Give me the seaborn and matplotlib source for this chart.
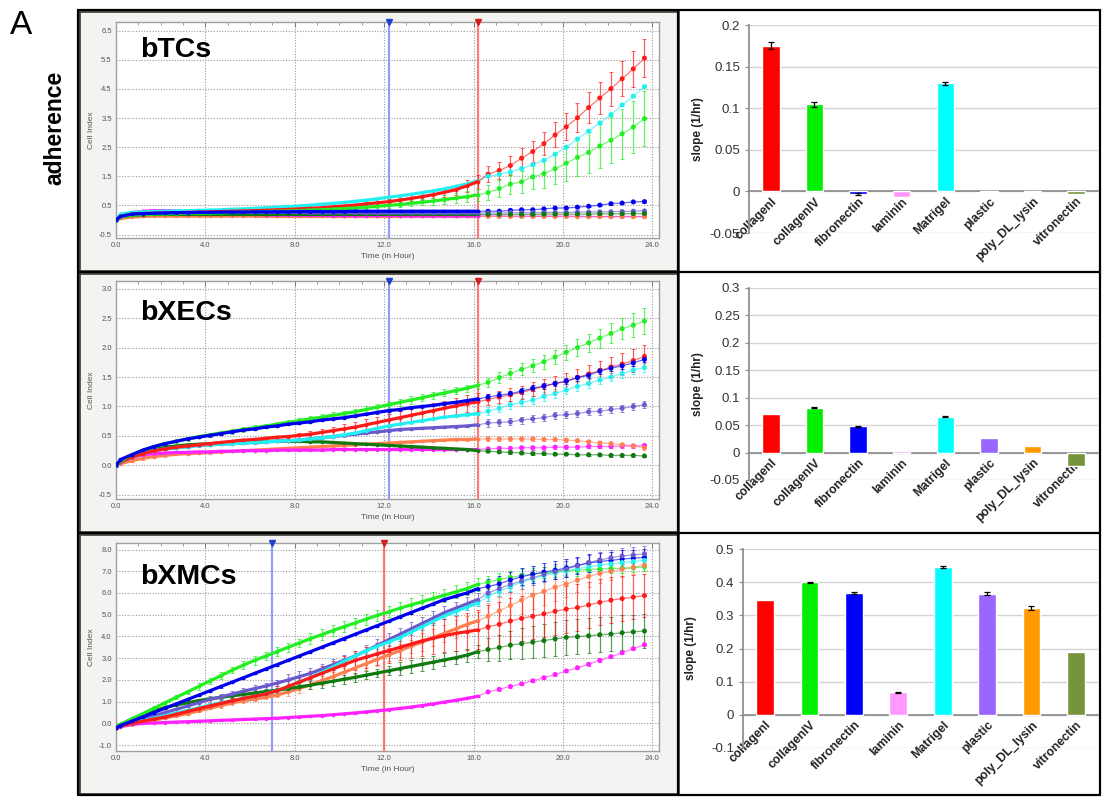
import numpy as np
import pandas as pd
import matplotlib
matplotlib.use("Agg")
import matplotlib.pyplot as plt
import seaborn as sns
from matplotlib.patches import Rectangle
from matplotlib.lines import Line2D
from matplotlib.ticker import MultipleLocator, FormatStrFormatter, FuncFormatter

sns.set_theme(style="white")
plt.rcParams["font.family"] = ["Liberation Sans", "DejaVu Sans"]

# ---------------- data ----------------
substrates = ["collagenI", "collagenIV", "fibronectin", "laminin", "Matrigel",
              "plastic", "poly_DL_lysin", "vitronectin"]

T_DENSE = [0.0, 0.2, 0.7, 1.2, 1.7, 2.2, 2.7, 3.2, 3.7, 4.2, 4.7, 5.2, 5.7, 6.2, 6.7, 7.2, 7.7,
           8.2, 8.7, 9.2, 9.7, 10.2, 10.7, 11.2, 11.7, 12.2, 12.7, 13.2, 13.7, 14.2, 14.7, 15.2,
           15.7, 16.2]
T_LATE = [16.65, 17.15, 17.65, 18.15, 18.65, 19.15, 19.65, 20.15, 20.65, 21.15, 21.65, 22.15,
          22.65, 23.15, 23.65]

# bTCs cell index
tc_collagenI = [0.0, 0.12, 0.2, 0.22, 0.23, 0.24, 0.25, 0.26, 0.27, 0.28, 0.29, 0.3, 0.31, 0.32, 0.33, 0.35, 0.36,
                0.38, 0.4, 0.42, 0.45, 0.48, 0.51, 0.55, 0.59, 0.63, 0.68, 0.74, 0.8, 0.87, 0.95, 1.04, 1.17, 1.32,
                1.57, 1.7, 1.87, 2.12, 2.35, 2.62, 2.92, 3.2, 3.51, 3.86, 4.19, 4.51, 4.85, 5.19, 5.56]
tc_collagenI_err = [0.01, 0.01, 0.01, 0.01, 0.01, 0.01, 0.01, 0.01, 0.01, 0.01, 0.01, 0.01, 0.02, 0.02, 0.02, 0.02, 0.02,
                    0.03, 0.03, 0.04, 0.04, 0.05, 0.05, 0.06, 0.07, 0.08, 0.09, 0.1, 0.11, 0.13, 0.15, 0.17, 0.2, 0.24,
                    0.28, 0.3, 0.32, 0.34, 0.37, 0.4, 0.43, 0.46, 0.5, 0.53, 0.56, 0.58, 0.6, 0.62, 0.65]
tc_collagenIV = [0.0, 0.1, 0.17, 0.19, 0.2, 0.21, 0.22, 0.23, 0.23, 0.24, 0.25, 0.26, 0.27, 0.28, 0.29, 0.3, 0.31,
                 0.32, 0.34, 0.35, 0.37, 0.39, 0.41, 0.44, 0.47, 0.5, 0.53, 0.57, 0.61, 0.65, 0.7, 0.75, 0.8, 0.86,
                 0.94, 1.08, 1.23, 1.31, 1.48, 1.59, 1.76, 1.95, 2.15, 2.32, 2.54, 2.74, 2.96, 3.19, 3.48]
tc_collagenIV_err = [0.01, 0.01, 0.01, 0.01, 0.01, 0.01, 0.01, 0.01, 0.01, 0.01, 0.01, 0.01, 0.01, 0.02, 0.02, 0.02, 0.02,
                     0.02, 0.03, 0.03, 0.03, 0.04, 0.05, 0.06, 0.07, 0.08, 0.09, 0.1, 0.11, 0.12, 0.14, 0.16, 0.18, 0.2,
                     0.25, 0.3, 0.34, 0.38, 0.43, 0.48, 0.53, 0.6, 0.65, 0.7, 0.75, 0.8, 0.85, 0.9, 0.95]
tc_fibronectin = [0.0, 0.12, 0.2, 0.22, 0.23, 0.24, 0.25, 0.25, 0.26, 0.26, 0.27, 0.27, 0.27, 0.28, 0.28, 0.28, 0.28,
                  0.29, 0.29, 0.29, 0.29, 0.29, 0.3, 0.3, 0.3, 0.3, 0.3, 0.3, 0.3, 0.3, 0.3, 0.3, 0.3, 0.3,
                  0.3, 0.3, 0.33, 0.35, 0.35, 0.38, 0.41, 0.41, 0.44, 0.47, 0.51, 0.56, 0.58, 0.62, 0.63]
tc_fibronectin_err = [0.02, 0.02, 0.02, 0.02, 0.02, 0.02, 0.02, 0.02, 0.02, 0.02, 0.02, 0.02, 0.02, 0.02, 0.02, 0.02, 0.02,
                      0.02, 0.02, 0.02, 0.02, 0.02, 0.02, 0.02, 0.02, 0.02, 0.02, 0.02, 0.02, 0.02, 0.02, 0.02, 0.02, 0.02,
                      0.04, 0.04, 0.04, 0.04, 0.04, 0.04, 0.04, 0.04, 0.04, 0.04, 0.04, 0.04, 0.04, 0.04, 0.04]
tc_laminin = [0.0, 0.15, 0.25, 0.3, 0.32, 0.32, 0.31, 0.29, 0.27, 0.25, 0.23, 0.21, 0.2, 0.19, 0.18, 0.17, 0.17,
              0.16, 0.16, 0.16, 0.15, 0.15, 0.15, 0.15, 0.15, 0.15, 0.15, 0.14, 0.14, 0.14, 0.14, 0.14, 0.14, 0.14,
              0.14, 0.14, 0.13, 0.13, 0.13, 0.13, 0.13, 0.13, 0.13, 0.12, 0.12, 0.12, 0.12, 0.12, 0.12]
tc_laminin_err = [0.01, 0.01, 0.01, 0.01, 0.01, 0.01, 0.01, 0.01, 0.01, 0.01, 0.01, 0.01, 0.01, 0.01, 0.01, 0.01, 0.01,
                  0.01, 0.01, 0.01, 0.01, 0.01, 0.01, 0.01, 0.01, 0.01, 0.01, 0.01, 0.01, 0.01, 0.01, 0.01, 0.01, 0.01,
                  0.02, 0.02, 0.02, 0.02, 0.02, 0.02, 0.02, 0.02, 0.02, 0.02, 0.02, 0.02, 0.02, 0.02, 0.02]
tc_Matrigel = [0.0, 0.2, 0.26, 0.28, 0.29, 0.3, 0.31, 0.32, 0.33, 0.34, 0.35, 0.37, 0.38, 0.4, 0.42, 0.44, 0.46,
               0.48, 0.51, 0.54, 0.57, 0.6, 0.64, 0.68, 0.73, 0.78, 0.83, 0.88, 0.94, 1.0, 1.07, 1.15, 1.24, 1.34,
               1.5, 1.57, 1.65, 1.77, 1.9, 2.05, 2.26, 2.5, 2.78, 3.05, 3.33, 3.62, 3.95, 4.25, 4.58]
tc_Matrigel_err = [0.02, 0.02, 0.02, 0.02, 0.02, 0.02, 0.02, 0.02, 0.02, 0.02, 0.02, 0.02, 0.02, 0.02, 0.02, 0.02, 0.02,
                   0.02, 0.02, 0.02, 0.02, 0.02, 0.02, 0.02, 0.02, 0.02, 0.02, 0.02, 0.02, 0.02, 0.02, 0.02, 0.02, 0.02,
                   0.04, 0.04, 0.04, 0.04, 0.04, 0.04, 0.04, 0.04, 0.04, 0.04, 0.04, 0.04, 0.04, 0.04, 0.04]
tc_plastic = [0.0, 0.15, 0.22, 0.25, 0.27, 0.28, 0.28, 0.28, 0.28, 0.27, 0.27, 0.27, 0.27, 0.26, 0.26, 0.26, 0.26,
              0.26, 0.25, 0.25, 0.25, 0.25, 0.25, 0.25, 0.24, 0.24, 0.24, 0.24, 0.24, 0.24, 0.24, 0.24, 0.24, 0.24,
              0.24, 0.24, 0.25, 0.25, 0.25, 0.26, 0.26, 0.26, 0.27, 0.27, 0.28, 0.28, 0.29, 0.3, 0.31]
tc_plastic_err = [0.01, 0.01, 0.01, 0.01, 0.01, 0.01, 0.01, 0.01, 0.01, 0.01, 0.01, 0.01, 0.01, 0.01, 0.01, 0.01, 0.01,
                  0.01, 0.01, 0.01, 0.01, 0.01, 0.01, 0.01, 0.01, 0.01, 0.01, 0.01, 0.01, 0.01, 0.01, 0.01, 0.01, 0.01,
                  0.03, 0.03, 0.03, 0.03, 0.03, 0.03, 0.03, 0.03, 0.03, 0.03, 0.03, 0.03, 0.03, 0.03, 0.03]
tc_poly_DL_lysin = [0.0, 0.05, 0.1, 0.12, 0.13, 0.13, 0.13, 0.13, 0.13, 0.13, 0.13, 0.13, 0.13, 0.13, 0.12, 0.12, 0.12,
                    0.12, 0.12, 0.12, 0.12, 0.12, 0.12, 0.12, 0.12, 0.12, 0.12, 0.12, 0.12, 0.12, 0.12, 0.12, 0.12, 0.12,
                    0.12, 0.12, 0.12, 0.12, 0.12, 0.12, 0.12, 0.12, 0.11, 0.11, 0.11, 0.11, 0.11, 0.11, 0.11]
tc_poly_DL_lysin_err = [0.01, 0.01, 0.01, 0.01, 0.01, 0.01, 0.01, 0.01, 0.01, 0.01, 0.01, 0.01, 0.01, 0.01, 0.01, 0.01, 0.01,
                        0.01, 0.01, 0.01, 0.01, 0.01, 0.01, 0.01, 0.01, 0.01, 0.01, 0.01, 0.01, 0.01, 0.01, 0.01, 0.01, 0.01,
                        0.02, 0.02, 0.02, 0.02, 0.02, 0.02, 0.02, 0.02, 0.02, 0.02, 0.02, 0.02, 0.02, 0.02, 0.02]
tc_vitronectin = [0.0, 0.1, 0.16, 0.18, 0.19, 0.19, 0.19, 0.19, 0.19, 0.19, 0.19, 0.19, 0.19, 0.19, 0.19, 0.19, 0.19,
                  0.19, 0.19, 0.19, 0.19, 0.19, 0.19, 0.19, 0.19, 0.19, 0.19, 0.19, 0.19, 0.19, 0.19, 0.19, 0.19, 0.19,
                  0.19, 0.19, 0.19, 0.19, 0.19, 0.2, 0.2, 0.2, 0.2, 0.2, 0.21, 0.21, 0.21, 0.22, 0.22]
tc_vitronectin_err = [0.01, 0.01, 0.01, 0.01, 0.01, 0.01, 0.01, 0.01, 0.01, 0.01, 0.01, 0.01, 0.01, 0.01, 0.01, 0.01, 0.01,
                      0.01, 0.01, 0.01, 0.01, 0.01, 0.01, 0.01, 0.01, 0.01, 0.01, 0.01, 0.01, 0.01, 0.01, 0.01, 0.01, 0.01,
                      0.02, 0.02, 0.02, 0.02, 0.02, 0.02, 0.02, 0.02, 0.02, 0.02, 0.02, 0.02, 0.02, 0.02, 0.02]

# bXECs cell index
ec_collagenI = [0.0, 0.06, 0.14, 0.2, 0.25, 0.28, 0.31, 0.33, 0.35, 0.37, 0.39, 0.41, 0.43, 0.44, 0.46, 0.48, 0.49,
                0.51, 0.53, 0.56, 0.59, 0.62, 0.65, 0.69, 0.73, 0.77, 0.81, 0.85, 0.89, 0.93, 0.97, 1.01, 1.05, 1.08,
                1.12, 1.16, 1.2, 1.24, 1.29, 1.34, 1.39, 1.43, 1.49, 1.55, 1.61, 1.67, 1.72, 1.78, 1.85]
ec_collagenI_err = [0.02, 0.02, 0.02, 0.02, 0.02, 0.02, 0.02, 0.02, 0.02, 0.02, 0.02, 0.02, 0.02, 0.02, 0.02, 0.02, 0.03,
                    0.04, 0.05, 0.06, 0.07, 0.08, 0.09, 0.1, 0.1, 0.11, 0.11, 0.12, 0.12, 0.13, 0.13, 0.14, 0.14, 0.15,
                    0.1, 0.1, 0.11, 0.11, 0.12, 0.12, 0.13, 0.14, 0.14, 0.15, 0.16, 0.17, 0.18, 0.19, 0.2]
ec_collagenIV = [0.0, 0.08, 0.18, 0.26, 0.32, 0.37, 0.41, 0.45, 0.49, 0.52, 0.55, 0.58, 0.61, 0.64, 0.67, 0.7, 0.73,
                 0.76, 0.79, 0.82, 0.85, 0.88, 0.91, 0.95, 0.99, 1.03, 1.07, 1.11, 1.15, 1.19, 1.23, 1.27, 1.31, 1.36,
                 1.41, 1.49, 1.56, 1.63, 1.69, 1.76, 1.84, 1.92, 2.0, 2.08, 2.16, 2.24, 2.32, 2.38, 2.45]
ec_collagenIV_err = [0.02, 0.02, 0.02, 0.02, 0.03, 0.03, 0.03, 0.03, 0.03, 0.03, 0.04, 0.04, 0.04, 0.04, 0.04, 0.04, 0.04,
                     0.04, 0.05, 0.05, 0.05, 0.05, 0.05, 0.05, 0.05, 0.05, 0.06, 0.06, 0.06, 0.06, 0.06, 0.06, 0.06, 0.06,
                     0.08, 0.09, 0.1, 0.1, 0.11, 0.12, 0.12, 0.13, 0.14, 0.15, 0.16, 0.17, 0.18, 0.2, 0.22]
ec_fibronectin = [0.0, 0.1, 0.18, 0.26, 0.32, 0.37, 0.41, 0.45, 0.48, 0.51, 0.54, 0.57, 0.6, 0.62, 0.65, 0.67, 0.7,
                  0.72, 0.74, 0.77, 0.79, 0.81, 0.84, 0.87, 0.9, 0.93, 0.95, 0.98, 1.0, 1.02, 1.05, 1.07, 1.1, 1.13,
                  1.16, 1.19, 1.22, 1.26, 1.31, 1.35, 1.39, 1.43, 1.49, 1.53, 1.6, 1.65, 1.69, 1.74, 1.8]
ec_fibronectin_err = [0.02, 0.02, 0.02, 0.02, 0.02, 0.02, 0.02, 0.02, 0.02, 0.02, 0.02, 0.02, 0.02, 0.02, 0.02, 0.02, 0.02,
                      0.02, 0.02, 0.02, 0.02, 0.02, 0.02, 0.02, 0.02, 0.02, 0.02, 0.02, 0.02, 0.02, 0.02, 0.02, 0.02, 0.02,
                      0.05, 0.05, 0.05, 0.05, 0.05, 0.05, 0.05, 0.05, 0.05, 0.05, 0.05, 0.05, 0.05, 0.05, 0.05]
ec_laminin = [0.0, 0.06, 0.14, 0.18, 0.2, 0.21, 0.22, 0.22, 0.23, 0.23, 0.24, 0.24, 0.25, 0.25, 0.25, 0.26, 0.26,
              0.26, 0.26, 0.26, 0.27, 0.27, 0.27, 0.27, 0.27, 0.27, 0.27, 0.27, 0.27, 0.27, 0.27, 0.27, 0.27, 0.27,
              0.28, 0.29, 0.29, 0.3, 0.3, 0.3, 0.31, 0.31, 0.31, 0.32, 0.32, 0.32, 0.33, 0.33, 0.34]
ec_laminin_err = [0.01, 0.01, 0.01, 0.01, 0.01, 0.01, 0.01, 0.01, 0.01, 0.01, 0.01, 0.01, 0.01, 0.01, 0.01, 0.01, 0.01,
                  0.01, 0.01, 0.01, 0.01, 0.01, 0.01, 0.01, 0.01, 0.01, 0.01, 0.01, 0.01, 0.01, 0.01, 0.01, 0.01, 0.01,
                  0.03, 0.03, 0.03, 0.03, 0.03, 0.03, 0.03, 0.03, 0.03, 0.03, 0.03, 0.03, 0.03, 0.03, 0.03]
ec_Matrigel = [0.0, 0.06, 0.14, 0.2, 0.25, 0.28, 0.3, 0.32, 0.34, 0.35, 0.36, 0.37, 0.38, 0.39, 0.4, 0.41, 0.42,
               0.43, 0.45, 0.47, 0.49, 0.52, 0.55, 0.59, 0.63, 0.67, 0.7, 0.73, 0.76, 0.79, 0.82, 0.84, 0.86, 0.88,
               0.92, 0.97, 1.03, 1.07, 1.11, 1.17, 1.22, 1.28, 1.34, 1.39, 1.45, 1.5, 1.56, 1.62, 1.66]
ec_Matrigel_err = [0.02, 0.02, 0.02, 0.02, 0.02, 0.02, 0.02, 0.02, 0.02, 0.02, 0.02, 0.02, 0.02, 0.02, 0.02, 0.02, 0.02,
                   0.02, 0.02, 0.02, 0.02, 0.02, 0.02, 0.02, 0.02, 0.02, 0.02, 0.02, 0.02, 0.02, 0.02, 0.02, 0.02, 0.02,
                   0.07, 0.07, 0.07, 0.07, 0.07, 0.07, 0.07, 0.07, 0.07, 0.07, 0.07, 0.07, 0.07, 0.07, 0.07]
ec_plastic = [0.0, 0.06, 0.14, 0.2, 0.25, 0.28, 0.3, 0.32, 0.34, 0.35, 0.36, 0.37, 0.38, 0.39, 0.4, 0.41, 0.42,
              0.43, 0.45, 0.47, 0.49, 0.51, 0.53, 0.55, 0.57, 0.59, 0.61, 0.62, 0.63, 0.64, 0.65, 0.66, 0.67, 0.69,
              0.72, 0.73, 0.74, 0.77, 0.79, 0.81, 0.85, 0.86, 0.88, 0.91, 0.92, 0.95, 0.97, 1.0, 1.03]
ec_plastic_err = [0.02, 0.02, 0.02, 0.02, 0.02, 0.02, 0.02, 0.02, 0.02, 0.02, 0.02, 0.02, 0.02, 0.02, 0.02, 0.02, 0.02,
                  0.02, 0.02, 0.02, 0.02, 0.02, 0.02, 0.02, 0.02, 0.02, 0.02, 0.02, 0.02, 0.02, 0.02, 0.02, 0.02, 0.02,
                  0.06, 0.06, 0.06, 0.06, 0.06, 0.06, 0.06, 0.06, 0.06, 0.06, 0.06, 0.06, 0.06, 0.06, 0.06]
ec_poly_DL_lysin = [0.0, 0.03, 0.08, 0.12, 0.15, 0.17, 0.19, 0.2, 0.21, 0.22, 0.23, 0.24, 0.25, 0.26, 0.27, 0.28, 0.29,
                    0.3, 0.31, 0.32, 0.33, 0.34, 0.35, 0.36, 0.37, 0.38, 0.39, 0.4, 0.41, 0.42, 0.43, 0.44, 0.44, 0.45,
                    0.45, 0.45, 0.45, 0.45, 0.45, 0.44, 0.44, 0.43, 0.42, 0.4, 0.38, 0.37, 0.35, 0.33, 0.3]
ec_poly_DL_lysin_err = [0.02, 0.02, 0.02, 0.02, 0.02, 0.02, 0.02, 0.02, 0.02, 0.02, 0.02, 0.02, 0.02, 0.02, 0.02, 0.02, 0.02,
                        0.02, 0.02, 0.02, 0.02, 0.02, 0.02, 0.02, 0.02, 0.02, 0.02, 0.02, 0.02, 0.02, 0.02, 0.02, 0.02, 0.02,
                        0.03, 0.03, 0.03, 0.03, 0.03, 0.03, 0.03, 0.03, 0.03, 0.03, 0.03, 0.03, 0.03, 0.03, 0.03]
ec_vitronectin = [0.0, 0.06, 0.14, 0.21, 0.27, 0.31, 0.33, 0.35, 0.36, 0.37, 0.38, 0.39, 0.4, 0.4, 0.41, 0.41, 0.41,
                  0.41, 0.4, 0.4, 0.39, 0.38, 0.37, 0.36, 0.35, 0.34, 0.33, 0.32, 0.31, 0.3, 0.29, 0.28, 0.27, 0.25,
                  0.24, 0.23, 0.22, 0.21, 0.2, 0.2, 0.19, 0.19, 0.18, 0.18, 0.18, 0.17, 0.17, 0.17, 0.16]
ec_vitronectin_err = [0.01, 0.01, 0.01, 0.01, 0.01, 0.01, 0.01, 0.01, 0.01, 0.01, 0.01, 0.01, 0.01, 0.01, 0.01, 0.01, 0.01,
                      0.01, 0.01, 0.01, 0.01, 0.01, 0.01, 0.01, 0.01, 0.01, 0.01, 0.01, 0.01, 0.01, 0.01, 0.01, 0.01, 0.01,
                      0.02, 0.02, 0.02, 0.02, 0.02, 0.02, 0.02, 0.02, 0.02, 0.02, 0.02, 0.02, 0.02, 0.02, 0.02]

# bXMCs cell index
mc_collagenI = [-0.2, -0.12, 0.0, 0.1, 0.2, 0.3, 0.42, 0.55, 0.68, 0.8, 0.92, 1.04, 1.15, 1.25, 1.35, 1.5, 1.7,
                1.9, 2.1, 2.3, 2.5, 2.7, 2.9, 3.05, 3.2, 3.35, 3.5, 3.65, 3.8, 3.92, 4.04, 4.14, 4.22, 4.3,
                4.44, 4.56, 4.71, 4.83, 4.93, 5.04, 5.16, 5.26, 5.33, 5.45, 5.57, 5.67, 5.74, 5.81, 5.88]
mc_collagenI_err = [0.05, 0.05, 0.05, 0.05, 0.05, 0.05, 0.05, 0.05, 0.05, 0.05, 0.1, 0.12, 0.15, 0.18, 0.2, 0.22, 0.25,
                    0.28, 0.3, 0.33, 0.36, 0.4, 0.44, 0.48, 0.52, 0.56, 0.6, 0.64, 0.68, 0.72, 0.76, 0.8, 0.85, 0.9,
                    1.0, 1.02, 1.04, 1.05, 1.06, 1.07, 1.08, 1.08, 1.08, 1.07, 1.06, 1.05, 1.04, 1.02, 1.0]
mc_collagenIV = [-0.2, -0.05, 0.2, 0.45, 0.7, 0.95, 1.2, 1.45, 1.7, 1.95, 2.2, 2.45, 2.68, 2.9, 3.1, 3.3, 3.5,
                 3.7, 3.9, 4.08, 4.27, 4.45, 4.62, 4.8, 4.97, 5.13, 5.3, 5.45, 5.6, 5.75, 5.9, 6.05, 6.2, 6.4,
                 6.5, 6.62, 6.72, 6.8, 6.87, 6.93, 6.98, 7.02, 7.05, 7.08, 7.1, 7.12, 7.14, 7.16, 7.2]
mc_collagenIV_err = [0.05, 0.05, 0.05, 0.05, 0.1, 0.1, 0.1, 0.1, 0.15, 0.15, 0.15, 0.15, 0.2, 0.2, 0.2, 0.2, 0.2,
                     0.2, 0.25, 0.25, 0.25, 0.25, 0.25, 0.25, 0.25, 0.25, 0.3, 0.3, 0.3, 0.3, 0.3, 0.3, 0.3, 0.3,
                     0.3, 0.3, 0.3, 0.3, 0.3, 0.25, 0.25, 0.25, 0.25, 0.25, 0.2, 0.2, 0.2, 0.2, 0.2]
mc_fibronectin = [-0.2, -0.1, 0.1, 0.3, 0.5, 0.7, 0.9, 1.1, 1.3, 1.5, 1.7, 1.9, 2.1, 2.3, 2.5, 2.7, 2.9,
                  3.1, 3.3, 3.5, 3.7, 3.9, 4.1, 4.3, 4.5, 4.7, 4.9, 5.1, 5.3, 5.5, 5.7, 5.85, 6.0, 6.2,
                  6.3, 6.42, 6.6, 6.75, 6.86, 6.96, 7.05, 7.15, 7.27, 7.38, 7.45, 7.5, 7.56, 7.6, 7.64]
mc_fibronectin_err = [0.05, 0.05, 0.05, 0.05, 0.05, 0.05, 0.05, 0.05, 0.05, 0.05, 0.05, 0.05, 0.05, 0.05, 0.05, 0.05, 0.05,
                      0.05, 0.05, 0.05, 0.05, 0.05, 0.05, 0.05, 0.05, 0.05, 0.05, 0.05, 0.05, 0.05, 0.05, 0.05, 0.05, 0.05,
                      0.35, 0.36, 0.37, 0.38, 0.39, 0.4, 0.4, 0.4, 0.4, 0.4, 0.4, 0.4, 0.4, 0.4, 0.4]
mc_laminin = [-0.2, -0.15, -0.05, 0.0, 0.02, 0.04, 0.06, 0.08, 0.1, 0.12, 0.14, 0.16, 0.18, 0.2, 0.22, 0.24, 0.27,
              0.3, 0.33, 0.36, 0.4, 0.44, 0.48, 0.53, 0.58, 0.63, 0.69, 0.75, 0.82, 0.9, 0.98, 1.06, 1.15, 1.25,
              1.45, 1.57, 1.7, 1.82, 1.96, 2.1, 2.25, 2.41, 2.56, 2.72, 2.9, 3.07, 3.25, 3.44, 3.62]
mc_laminin_err = [0.03, 0.03, 0.03, 0.03, 0.03, 0.03, 0.03, 0.03, 0.03, 0.03, 0.03, 0.03, 0.03, 0.03, 0.03, 0.03, 0.03,
                  0.03, 0.03, 0.03, 0.03, 0.03, 0.03, 0.03, 0.03, 0.03, 0.03, 0.03, 0.03, 0.03, 0.03, 0.03, 0.03, 0.03,
                  0.06, 0.06, 0.06, 0.06, 0.06, 0.06, 0.06, 0.06, 0.06, 0.06, 0.06, 0.06, 0.06, 0.06, 0.06]
mc_Matrigel = [-0.2, -0.12, 0.0, 0.12, 0.24, 0.36, 0.48, 0.6, 0.72, 0.84, 0.95, 1.05, 1.15, 1.25, 1.35, 1.5, 1.7,
               1.9, 2.1, 2.35, 2.6, 2.85, 3.1, 3.35, 3.55, 3.75, 3.95, 4.2, 4.45, 4.7, 4.95, 5.15, 5.35, 5.55,
               5.85, 6.08, 6.3, 6.5, 6.66, 6.8, 6.92, 7.02, 7.12, 7.2, 7.28, 7.34, 7.4, 7.45, 7.5]
mc_Matrigel_err = [0.05, 0.05, 0.05, 0.05, 0.05, 0.05, 0.05, 0.05, 0.05, 0.05, 0.05, 0.05, 0.1, 0.1, 0.1, 0.1, 0.1,
                   0.1, 0.1, 0.1, 0.15, 0.15, 0.15, 0.15, 0.15, 0.15, 0.15, 0.15, 0.15, 0.15, 0.15, 0.15, 0.15, 0.15,
                   0.2, 0.2, 0.2, 0.2, 0.2, 0.2, 0.2, 0.2, 0.2, 0.2, 0.2, 0.2, 0.2, 0.2, 0.2]
mc_plastic = [-0.2, -0.1, 0.05, 0.2, 0.35, 0.5, 0.65, 0.8, 0.95, 1.1, 1.22, 1.35, 1.48, 1.6, 1.72, 1.85, 2.0,
              2.15, 2.3, 2.5, 2.7, 2.9, 3.1, 3.35, 3.6, 3.85, 4.1, 4.35, 4.6, 4.85, 5.1, 5.3, 5.5, 5.7,
              6.0, 6.2, 6.4, 6.55, 6.7, 6.85, 6.98, 7.1, 7.25, 7.4, 7.52, 7.62, 7.7, 7.75, 7.8]
mc_plastic_err = [0.05, 0.05, 0.05, 0.05, 0.05, 0.05, 0.05, 0.05, 0.15, 0.15, 0.15, 0.15, 0.15, 0.15, 0.15, 0.15, 0.25,
                  0.25, 0.25, 0.25, 0.25, 0.25, 0.25, 0.25, 0.3, 0.3, 0.3, 0.3, 0.3, 0.3, 0.3, 0.3, 0.3, 0.3,
                  0.35, 0.35, 0.35, 0.35, 0.35, 0.35, 0.35, 0.35, 0.35, 0.35, 0.35, 0.35, 0.35, 0.35, 0.35]
mc_poly_DL_lysin = [-0.2, -0.15, -0.05, 0.05, 0.15, 0.25, 0.35, 0.45, 0.58, 0.7, 0.82, 0.94, 1.04, 1.12, 1.2, 1.3, 1.45,
                    1.6, 1.78, 1.96, 2.15, 2.35, 2.55, 2.75, 2.95, 3.15, 3.35, 3.55, 3.75, 3.95, 4.15, 4.35, 4.55, 4.73,
                    4.93, 5.18, 5.42, 5.67, 5.9, 6.07, 6.27, 6.41, 6.59, 6.76, 6.9, 7.0, 7.1, 7.18, 7.27]
mc_poly_DL_lysin_err = [0.05, 0.05, 0.05, 0.05, 0.05, 0.05, 0.05, 0.05, 0.05, 0.05, 0.1, 0.1, 0.1, 0.1, 0.1, 0.1, 0.2,
                        0.2, 0.2, 0.2, 0.2, 0.2, 0.3, 0.3, 0.3, 0.3, 0.3, 0.3, 0.4, 0.4, 0.4, 0.4, 0.4, 0.4,
                        0.6, 0.62, 0.64, 0.65, 0.65, 0.64, 0.62, 0.6, 0.55, 0.5, 0.45, 0.4, 0.35, 0.3, 0.25]
mc_vitronectin = [-0.2, -0.05, 0.2, 0.4, 0.58, 0.73, 0.85, 0.95, 1.05, 1.13, 1.2, 1.27, 1.33, 1.4, 1.46, 1.52, 1.6,
                  1.68, 1.76, 1.85, 1.94, 2.03, 2.12, 2.22, 2.32, 2.42, 2.52, 2.62, 2.72, 2.82, 2.92, 3.02, 3.14, 3.3,
                  3.4, 3.49, 3.6, 3.67, 3.74, 3.81, 3.89, 3.96, 3.99, 4.03, 4.08, 4.11, 4.17, 4.21, 4.25]
mc_vitronectin_err = [0.05, 0.05, 0.05, 0.05, 0.05, 0.05, 0.05, 0.05, 0.05, 0.05, 0.1, 0.1, 0.1, 0.1, 0.1, 0.1, 0.1,
                      0.1, 0.2, 0.2, 0.2, 0.2, 0.2, 0.2, 0.2, 0.2, 0.3, 0.3, 0.3, 0.3, 0.3, 0.3, 0.3, 0.3,
                      0.55, 0.6, 0.65, 0.7, 0.75, 0.75, 0.78, 0.8, 0.8, 0.8, 0.8, 0.8, 0.8, 0.8, 0.8]

# slopes (1/hr)
tc_slope = [0.175, 0.105, -0.003, -0.007, 0.130, -0.001, -0.001, -0.003]
tc_slope_err = [0.004, 0.003, 0.001, 0.0, 0.002, 0.0, 0.0, 0.0]
ec_slope = [0.070, 0.082, 0.048, 0.003, 0.065, 0.026, 0.012, -0.024]
ec_slope_err = [0.0, 0.001, 0.001, 0.0, 0.001, 0.0, 0.0, 0.0]
mc_slope = [0.345, 0.400, 0.366, 0.068, 0.446, 0.365, 0.322, 0.189]
mc_slope_err = [0.0, 0.002, 0.003, 0.002, 0.004, 0.005, 0.005, 0.0]

panel_titles = ["bTCs", "bXECs", "bXMCs"]

# ---------------- style ----------------
line_colors = ["#ff1a1a", "#22ee22", "#0000ee", "#ff22ff", "#22f0f0", "#6a5acd", "#ff7f50", "#107a10"]
bar_colors = ["#ff0000", "#00ee00", "#0000ff", "#ff99ff", "#00ffff", "#9966ff", "#ff9900", "#77933c"]
line_pal = dict(zip(substrates, line_colors))
bar_pal = dict(zip(substrates, bar_colors))
draw_order = ["poly_DL_lysin", "laminin", "vitronectin", "plastic", "Matrigel", "collagenI",
              "collagenIV", "fibronectin"]

W, H = 1102, 797
fig = plt.figure(figsize=(W / 100, H / 100), dpi=100)
fig.patch.set_facecolor("white")


def px_rect(l, t, r, b):
    return [l / W, 1 - b / H, (r - l) / W, (b - t) / H]


def fx(x):
    return x / W


def fy(y):
    return 1 - y / H


def line_frame(series, errs):
    times = T_DENSE + T_LATE
    rows = []
    for name in substrates:
        v = series[name]
        e = errs[name]
        for i, (t, y, s) in enumerate(zip(times, v, e)):
            rows.append({"time": t, "value": y, "err": s, "substrate": name, "idx": i})
    return pd.DataFrame(rows)


def draw_line_panel(ax, df, ylim, ymaj, ymin, vlines):
    nd = len(T_DENSE)
    dense = df[df["idx"] < nd]
    late = df[df["idx"] >= nd - 1]
    late_pts = df[df["idx"] >= nd]
    for name in draw_order:
        sub = df[df["substrate"] == name]
        ax.errorbar(sub["time"], sub["value"], yerr=sub["err"], fmt="none",
                    ecolor=line_pal[name], elinewidth=0.9, capsize=1.2, capthick=0.7,
                    alpha=0.7, zorder=2)
    sns.lineplot(data=late, x="time", y="value", hue="substrate", hue_order=draw_order,
                 palette=line_pal, estimator=None, sort=False, linewidth=0.9, alpha=0.6,
                 legend=False, ax=ax, zorder=3)
    sns.scatterplot(data=late_pts, x="time", y="value", hue="substrate", hue_order=draw_order,
                    palette=line_pal, s=13, linewidth=0, legend=False, ax=ax, zorder=4)
    sns.lineplot(data=dense, x="time", y="value", hue="substrate", hue_order=draw_order,
                 palette=line_pal, estimator=None, sort=False, linewidth=2.3, marker="o",
                 markersize=2.6, markeredgewidth=0, legend=False, ax=ax, zorder=4)
    ax.set_xlim(0, 24.3)
    ax.set_ylim(*ylim)
    ax.xaxis.set_major_locator(MultipleLocator(4))
    ax.xaxis.set_minor_locator(MultipleLocator(1))
    ax.yaxis.set_major_locator(MultipleLocator(ymaj, offset=ymaj * 0 + (0.5 if ymaj == 1.0 and ylim[0] > -0.9 else 0)))
    ax.yaxis.set_minor_locator(MultipleLocator(ymin))
    ax.xaxis.set_major_formatter(FormatStrFormatter("%.1f"))
    ax.yaxis.set_major_formatter(FormatStrFormatter("%.1f"))
    ax.tick_params(which="both", direction="in", colors="#777777", labelcolor="#555555",
                   labelsize=5.5, top=True, right=False, pad=3)
    ax.tick_params(which="major", length=3.5, width=0.7)
    ax.tick_params(which="minor", length=2, width=0.5)
    ax.grid(True, which="major", linestyle=(0, (1, 1.5)), color="#9a9a9a", linewidth=0.8)
    ax.set_axisbelow(True)
    for sp in ax.spines.values():
        sp.set_color("#a0a0a0")
        sp.set_linewidth(1.0)
    ax.set_xlabel("Time (in Hour)", fontsize=6, color="#555555", labelpad=3)
    ax.set_ylabel("Cell Index", fontsize=6, color="#555555", labelpad=3)
    for xv, col, mcol in vlines:
        ax.axvline(xv, color=col, linewidth=1.6, alpha=0.75, zorder=1.5)
        ax.plot([xv], [ylim[1]], marker="v", color=mcol, markersize=4.5, clip_on=False, zorder=6)


def draw_bar_panel(ax, vals, errs, ylim, step):
    sns.barplot(x=substrates, y=vals, hue=substrates, palette=bar_pal, width=0.4,
                saturation=1, legend=False, ax=ax, zorder=3)
    idx = [i for i, e in enumerate(errs) if e > 0]
    ax.errorbar(idx, [vals[i] for i in idx], yerr=[errs[i] for i in idx], fmt="none",
                ecolor="black", elinewidth=0.9, capsize=2.3, capthick=0.9, zorder=4)
    ax.set_xlim(-0.5, 7.5)
    ax.set_ylim(*ylim)
    ax.yaxis.set_major_locator(MultipleLocator(step))
    ax.yaxis.set_major_formatter(FuncFormatter(lambda v, p: "0" if abs(v) < 1e-9 else ("%.2f" % v).rstrip("0").rstrip(".")))
    ax.yaxis.grid(True, color="#d4d4d4", linewidth=1.0)
    ax.set_axisbelow(True)
    ax.spines["top"].set_visible(False)
    ax.spines["right"].set_visible(False)
    ax.spines["left"].set_color("#8c8c8c")
    ax.spines["bottom"].set_color("#8c8c8c")
    ax.spines["bottom"].set_position(("data", 0))
    ax.set_xticks(range(len(substrates)))
    ax.set_xticklabels(substrates, rotation=45, ha="right", va="top", rotation_mode="anchor",
                       fontsize=8.8, fontweight="bold", color="#222222")
    ax.set_xticks([i + 0.5 for i in range(len(substrates))], minor=True)
    ax.tick_params(axis="x", which="major", length=0, pad=3)
    ax.tick_params(axis="x", which="minor", length=4, width=0.8, color="#8c8c8c", direction="out")
    ax.tick_params(axis="y", which="major", length=3, width=0.8, color="#8c8c8c", labelsize=9.5,
                   labelcolor="#333333", direction="out", left=True)
    ax.set_xlabel("")
    ax.set_ylabel("slope (1/hr)", fontsize=8.5, fontweight="bold", color="#222222")
    ax.yaxis.set_label_coords(-0.13, 0.5)


# panel backgrounds (left screenshots)
for (t, b) in [(11, 271), (273, 532), (534, 794)]:
    fig.add_artist(Rectangle((fx(79), fy(b)), (678 - 79) / W, (b - t) / H, transform=fig.transFigure,
                             facecolor="#f3f3f1", edgecolor="#4a4a40", linewidth=2.0, zorder=-2))

tc_series = dict(zip(substrates, [tc_collagenI, tc_collagenIV, tc_fibronectin, tc_laminin, tc_Matrigel,
                                  tc_plastic, tc_poly_DL_lysin, tc_vitronectin]))
tc_errs = dict(zip(substrates, [tc_collagenI_err, tc_collagenIV_err, tc_fibronectin_err, tc_laminin_err,
                                tc_Matrigel_err, tc_plastic_err, tc_poly_DL_lysin_err, tc_vitronectin_err]))
ec_series = dict(zip(substrates, [ec_collagenI, ec_collagenIV, ec_fibronectin, ec_laminin, ec_Matrigel,
                                  ec_plastic, ec_poly_DL_lysin, ec_vitronectin]))
ec_errs = dict(zip(substrates, [ec_collagenI_err, ec_collagenIV_err, ec_fibronectin_err, ec_laminin_err,
                                ec_Matrigel_err, ec_plastic_err, ec_poly_DL_lysin_err, ec_vitronectin_err]))
mc_series = dict(zip(substrates, [mc_collagenI, mc_collagenIV, mc_fibronectin, mc_laminin, mc_Matrigel,
                                  mc_plastic, mc_poly_DL_lysin, mc_vitronectin]))
mc_errs = dict(zip(substrates, [mc_collagenI_err, mc_collagenIV_err, mc_fibronectin_err, mc_laminin_err,
                                mc_Matrigel_err, mc_plastic_err, mc_poly_DL_lysin_err, mc_vitronectin_err]))

BLUE_V, BLUE_M = "#6f7bff", "#2040d0"
RED_V, RED_M = "#ff5050", "#d02020"

line_specs = [
    (tc_series, tc_errs, (116, 22, 659, 238), (-0.62, 6.8), 1.0, 0.1, [(12.2, BLUE_V, BLUE_M), (16.2, RED_V, RED_M)], 57),
    (ec_series, ec_errs, (116, 281, 659, 499), (-0.57, 3.13), 0.5, 0.1, [(12.2, BLUE_V, BLUE_M), (16.2, RED_V, RED_M)], 320),
    (mc_series, mc_errs, (116, 543, 659, 751), (-1.27, 8.3), 1.0, 0.2, [(7.0, BLUE_V, BLUE_M), (12.0, RED_V, RED_M)], 584),
]

for k, (ser, err, rc, ylim, ymaj, ymin, vl, ty) in enumerate(line_specs):
    ax = fig.add_axes(px_rect(*rc))
    ax.set_facecolor("white")
    df = line_frame(ser, err)
    draw_line_panel(ax, df, ylim, ymaj, ymin, vl)
    if k == 0:
        ax.set_yticks([-0.5, 0.5, 1.5, 2.5, 3.5, 4.5, 5.5, 6.5])
    fig.text(fx(140), fy(ty), panel_titles[k], fontsize=20.5, fontweight="bold", color="black",
             va="baseline", ha="left", zorder=10)

bar_specs = [
    (tc_slope, tc_slope_err, (749, 25, 1098, 233), (-0.05, 0.2), 0.05),
    (ec_slope, ec_slope_err, (749, 288, 1098, 480), (-0.05, 0.3), 0.05),
    (mc_slope, mc_slope_err, (743, 549, 1098, 748), (-0.1, 0.5), 0.1),
]
for vals, errs, rc, ylim, step in bar_specs:
    ax = fig.add_axes(px_rect(*rc))
    ax.set_facecolor("white")
    draw_bar_panel(ax, vals, errs, ylim, step)

# layout frame lines
frame_lines = [
    ((78, 1100), (10, 10)), ((78, 1100), (795, 795)), ((78, 78), (10, 795)),
    ((1100, 1100), (10, 795)), ((678, 678), (10, 795)),
    ((78, 1100), (272, 272)), ((78, 1100), (533, 533)),
]
for xs, ys in frame_lines:
    fig.add_artist(Line2D([fx(xs[0]), fx(xs[1])], [fy(ys[0]), fy(ys[1])], transform=fig.transFigure,
                          color="black", linewidth=1.6, zorder=20))

fig.text(fx(21), fy(25), "A", fontsize=24, ha="center", va="center", color="black")
fig.text(fx(55), fy(128), "adherence", fontsize=16.5, fontweight="bold", rotation=90,
         ha="center", va="center", color="black")

fig.savefig("out.png", dpi=100, facecolor="white")
